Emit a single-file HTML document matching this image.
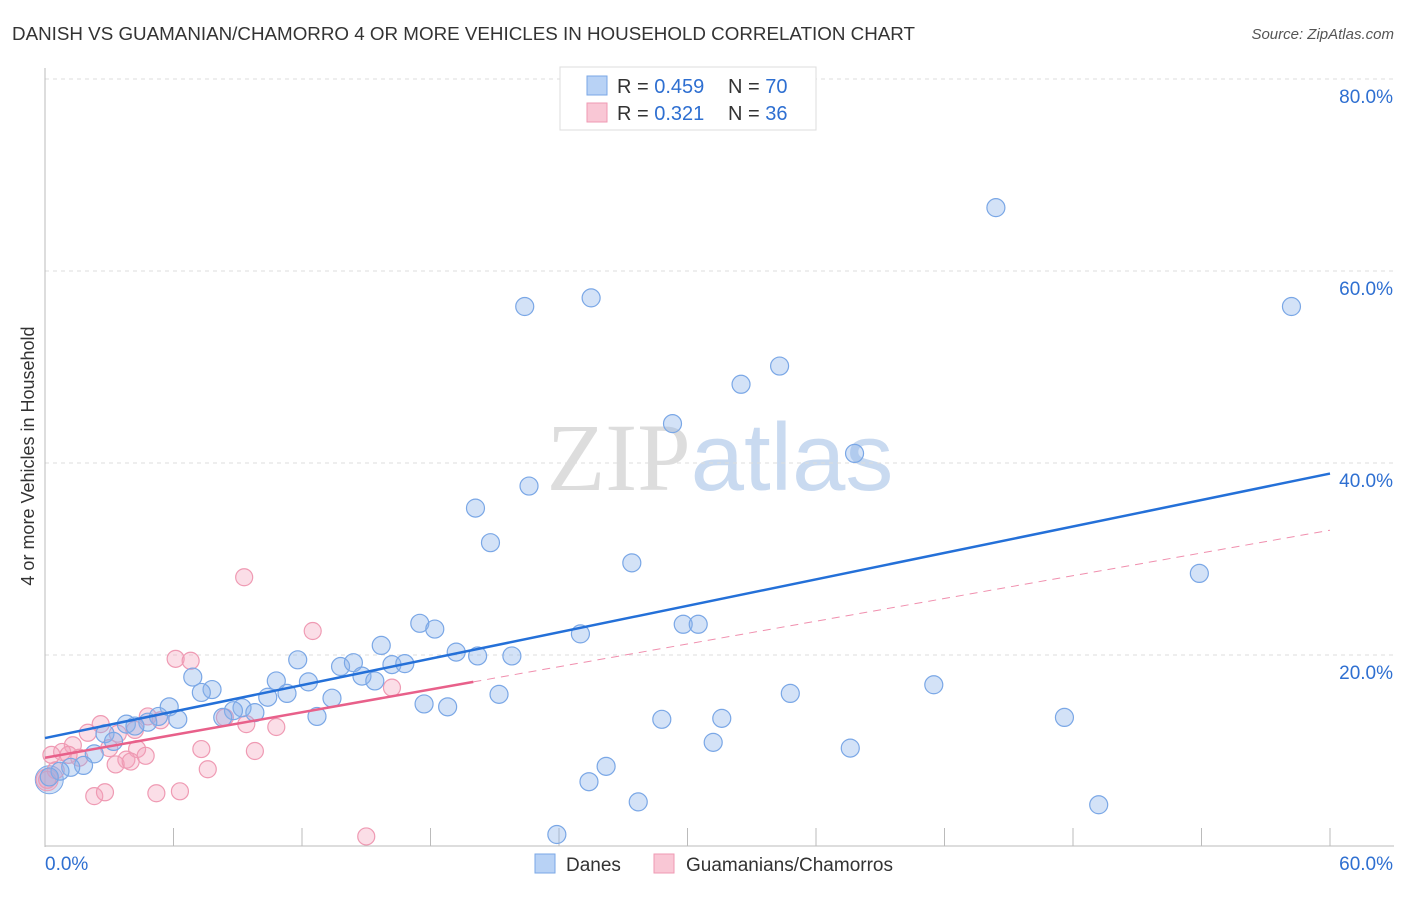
<!DOCTYPE html>
<html><head><meta charset="utf-8"><style>
body{margin:0;background:#fff;font-family:"Liberation Sans",sans-serif}
svg text{font-family:"Liberation Sans",sans-serif}
</style></head><body>
<svg id="chart" width="1406" height="892">
<text x="12" y="40" font-size="18" textLength="903" lengthAdjust="spacingAndGlyphs" fill="#333">DANISH VS GUAMANIAN/CHAMORRO 4 OR MORE VEHICLES IN HOUSEHOLD CORRELATION CHART</text>
<text x="1394" y="39" font-size="15" fill="#555" font-style="italic" text-anchor="end">Source: ZipAtlas.com</text>
<text x="720" y="490" font-size="96" text-anchor="middle"><tspan fill="#ddd" font-family="Liberation Serif">ZIP</tspan><tspan fill="#c9daf0">atlas</tspan></text>
<text transform="translate(34,456) rotate(-90)" font-size="18" fill="#333" text-anchor="middle">4 or more Vehicles in Household</text>
<g id="grid"></g><g id="ticks"></g><g id="marks"></g>
<g>
<rect x="560" y="67" width="256" height="63" fill="#fff" stroke="#ddd"/>
<rect x="587" y="76" width="20" height="19" fill="#b8d2f5" stroke="#7aa7e6"/>
<rect x="587" y="103" width="20" height="19" fill="#f9c7d5" stroke="#ef9ab3"/>
<text x="617" y="93" font-size="20" fill="#333">R = <tspan fill="#2e6fd1">0.459</tspan></text>
<text x="728" y="93" font-size="20" fill="#333">N = <tspan fill="#2e6fd1">70</tspan></text>
<text x="617" y="120" font-size="20" fill="#333">R =  <tspan fill="#2e6fd1">0.321</tspan></text>
<text x="728" y="120" font-size="20" fill="#333">N = <tspan fill="#2e6fd1">36</tspan></text>
</g>
<g>
<rect x="535" y="854" width="20" height="19" fill="#b8d2f5" stroke="#7aa7e6"/>
<text x="566" y="871" font-size="19" fill="#333">Danes</text>
<rect x="654" y="854" width="20" height="19" fill="#f9c7d5" stroke="#ef9ab3"/>
<text x="686" y="871" font-size="19" fill="#333">Guamanians/Chamorros</text>
</g>
</svg>
<script>
const yTicks=[20,40,60,80];
const yTickLabels=["20.0%","40.0%","60.0%","80.0%"];
const xTickVals=[0,6,12,18,24,30,36,42,48,54,60];
const danesX=[44.4,25.5,22.4,58.2,34.3,32.5,29.3,37.8,20.1,22.6,20.8,27.4,53.9,17.5,18.2,25.0,29.8,30.5,19.2,20.2,21.8,11.8,13.8,14.4,15.7,14.8,15.4,16.2,16.8,12.3,10.8,6.9,7.8,7.3,10.4,11.3,13.4,21.2,17.7,18.8,34.8,41.5,47.6,5.8,9.2,8.8,9.8,8.3,12.7,6.2,5.3,4.8,3.8,4.2,28.8,31.6,31.2,37.6,2.8,3.2,2.3,1.8,1.2,0.7,0.2,26.2,25.4,27.7,49.2,23.9];
const danesY=[66.6,57.2,56.3,56.3,50.1,48.2,44.1,41.0,35.3,37.6,31.7,29.6,28.5,23.3,22.7,22.2,23.2,23.2,20.3,19.9,19.9,19.5,18.8,19.2,21.0,17.8,17.3,19.0,19.1,17.2,17.3,17.7,16.4,16.1,15.6,16.0,15.5,15.9,14.9,14.6,16.0,16.9,13.5,14.6,14.5,14.2,14.0,13.5,13.6,13.3,13.6,13.0,12.8,12.6,13.3,13.4,10.9,10.3,11.8,11.0,9.7,8.5,8.3,7.9,7.3,8.4,6.8,4.7,4.4,1.3];
const guamX=[9.3,12.5,6.1,6.8,16.2,4.8,5.4,2.6,4.2,10.8,9.4,2.0,3.4,1.3,0.8,0.3,1.6,4.3,7.3,9.8,4.7,3.8,3.3,4.0,7.6,2.3,2.8,5.2,6.3,15.0,8.4,0.5,0.1,1.1,3.0];
const guamY=[28.1,22.5,19.6,19.4,16.6,13.6,13.2,12.8,12.2,12.5,12.8,11.9,11.8,10.6,9.9,9.6,9.3,10.2,10.2,10.0,9.5,9.1,8.6,8.9,8.1,5.3,5.7,5.6,5.8,1.1,13.5,8.0,7.0,9.6,10.3];
const danesTrend=[11.35,38.9];
const guamTrend=[9.3,33.0];
const guamSolidEnd=20;
const NS='http://www.w3.org/2000/svg';
const sx=v=>45+v*(1285/60), sy=v=>847-v*9.6;
function mk(t,a,p){const e=document.createElementNS(NS,t);for(const k in a)e.setAttribute(k,a[k]);p.appendChild(e);return e;}
const grid=document.getElementById('grid'),ticks=document.getElementById('ticks'),marks=document.getElementById('marks');
yTicks.forEach((v,i)=>{
 const l=mk('line',{x1:45,x2:1394,y1:sy(v),y2:sy(v),stroke:'#ddd','stroke-dasharray':'4,4'},grid);
 
 
 const t=mk('text',{x:1393,y:sy(v)+24,'font-size':19,fill:'#2e6fd1','text-anchor':'end'},grid);
 t.textContent=yTickLabels[i];
 
 
});
const ax=mk('line',{x1:45,x2:45,y1:68,y2:847,stroke:'#bbb'},ticks);


const bx=mk('line',{x1:45,x2:1394,y1:846,y2:846,stroke:'#bbb'},ticks);


xTickVals.forEach(v=>{
 const l=mk('line',{x1:sx(v),x2:sx(v),y1:828,y2:846,stroke:'#bbb'},ticks);
 
 
});
const xl0=mk('text',{x:45,y:870,'font-size':19,fill:'#2e6fd1'},ticks);xl0.textContent='0.0%';


const xl1=mk('text',{x:1393,y:870,'font-size':19,fill:'#2e6fd1','text-anchor':'end'},ticks);xl1.textContent='60.0%';


const big1=mk('circle',{cx:sx(0.2),cy:sy(7.0),r:14,fill:'rgba(120,165,230,0.35)',stroke:'#7aa7e6'},marks);


const big2=mk('circle',{cx:sx(0.1),cy:sy(7.0),r:11,fill:'rgba(240,150,180,0.3)',stroke:'#ef9ab3'},marks);


guamX.forEach((x,i)=>{
 const c=mk('circle',{cx:sx(x),cy:sy(guamY[i]),r:8.5,fill:'rgba(244,160,185,0.35)',stroke:'#ef9ab3','stroke-width':1.2},marks);
 
 
});
danesX.forEach((x,i)=>{
 const c=mk('circle',{cx:sx(x),cy:sy(danesY[i]),r:9,fill:'rgba(140,180,235,0.38)',stroke:'#7aa7e6','stroke-width':1.2},marks);
 
 
});
const gy=x=>guamTrend[0]+(guamTrend[1]-guamTrend[0])*x/60;
const gd=mk('line',{x1:sx(guamSolidEnd),y1:sy(gy(guamSolidEnd)),x2:sx(60),y2:sy(gy(60)),stroke:'#f08fae','stroke-width':1,'stroke-dasharray':'8,6'},marks);


const gs=mk('line',{x1:sx(0),y1:sy(gy(0)),x2:sx(guamSolidEnd),y2:sy(gy(guamSolidEnd)),stroke:'#e8608a','stroke-width':2.5},marks);


const dl=mk('line',{x1:sx(0),y1:sy(danesTrend[0]),x2:sx(60),y2:sy(danesTrend[1]),stroke:'#2470d8','stroke-width':2.5},marks);


</script>
</body></html>
